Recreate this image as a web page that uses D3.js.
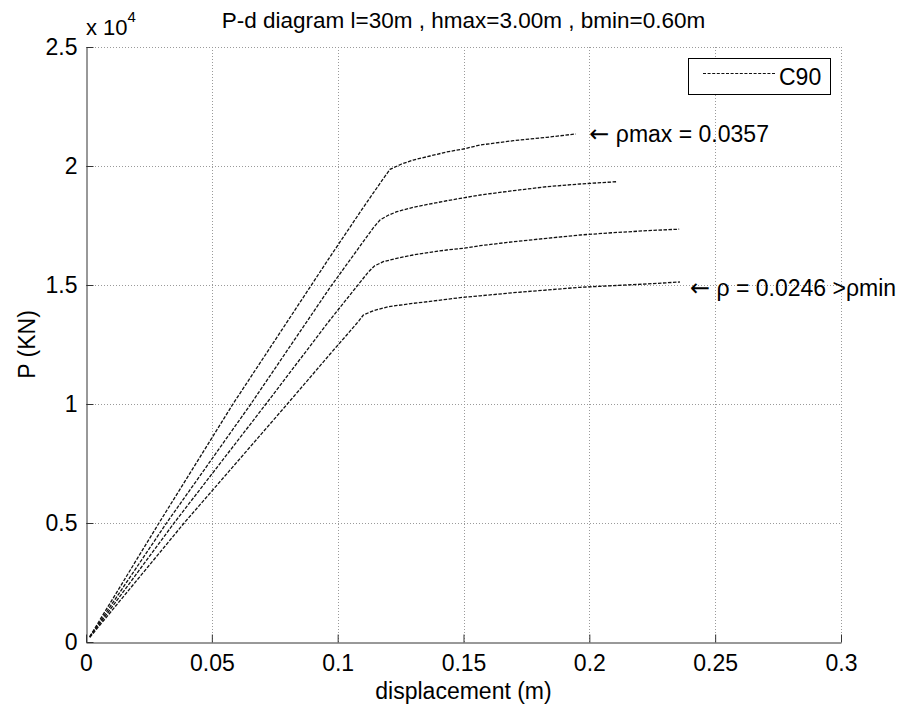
<!DOCTYPE html>
<html>
<head>
<meta charset="utf-8">
<script src="https://cdn.jsdelivr.net/npm/d3@7"></script>
<style>
  html, body { margin: 0; padding: 0; background: #fff; }
  svg { display: block; font-family: "Liberation Sans", Arial, Helvetica, sans-serif; }
</style>
</head>
<body>
<svg id="chart" width="906" height="707"></svg>
<script>
// Load–displacement curves for a beam section, l=30m, hmax=3.00m, bmin=0.60m (concrete C90)
// Displacement in m, load P in KN.

const xTicks = [0, 0.05, 0.1, 0.15, 0.2, 0.25, 0.3];
const xTickLabels = ["0", "0.05", "0.1", "0.15", "0.2", "0.25", "0.3"];
const yTicks = [0, 5000, 10000, 15000, 20000, 25000];
const yTickLabels = ["0", "0.5", "1", "1.5", "2", "2.5"];

// reinforcement ratio ρmax = 0.0357
const dispRhoMax = [0.0015, 0.0290, 0.0584, 0.0970, 0.1100, 0.1180, 0.1208, 0.1254, 0.1300, 0.1367, 0.1433, 0.1499, 0.1566, 0.1698, 0.1831, 0.1946];
const loadRhoMax = [230, 5000, 10000, 16190, 18230, 19450, 19860, 20084, 20252, 20420, 20588, 20714, 20882, 21063, 21206, 21345];

// intermediate ratio
const dispRho2 = [0.0015, 0.0320, 0.0655, 0.0970, 0.1140, 0.1168, 0.1201, 0.1235, 0.1300, 0.1433, 0.1566, 0.1698, 0.1831, 0.1963, 0.2109];
const loadRho2 = [215, 5000, 10000, 14900, 17380, 17731, 17930, 18080, 18265, 18540, 18782, 18963, 19131, 19244, 19341];

// intermediate ratio
const dispRho3 = [0.0015, 0.0350, 0.0715, 0.0970, 0.1120, 0.1146, 0.1181, 0.1235, 0.1300, 0.1367, 0.1433, 0.1499, 0.1566, 0.1698, 0.1831, 0.1963, 0.2095, 0.2228, 0.2357];
const loadRho3 = [205, 5000, 10000, 13540, 15520, 15800, 15979, 16122, 16261, 16374, 16471, 16542, 16651, 16819, 16962, 17101, 17198, 17282, 17345];

// reinforcement ratio ρ = 0.0246 > ρmin
const dispRhoMin = [0.0015, 0.0390, 0.0800, 0.0970, 0.1036, 0.1085, 0.1102, 0.1142, 0.1201, 0.1300, 0.1367, 0.1433, 0.1499, 0.1566, 0.1698, 0.1831, 0.1963, 0.2095, 0.2228, 0.2360];
const loadRhoMin = [195, 5000, 10000, 12100, 12900, 13500, 13740, 13920, 14088, 14230, 14310, 14399, 14483, 14545, 14677, 14790, 14903, 14971, 15042, 15126];

const seriesDisp = [dispRhoMax, dispRho2, dispRho3, dispRhoMin];
const seriesLoad = [loadRhoMax, loadRho2, loadRho3, loadRhoMin];

const titleText = "P-d diagram l=30m , hmax=3.00m , bmin=0.60m";
const xLabel = "displacement (m)";
const yLabel = "P (KN)";
const legendLabel = "C90";
const arrowGlyph = "\u2190";
const noteTop = " \u03C1max = 0.0357";
const noteBottom = " \u03C1 = 0.0246 >\u03C1min";

const svg = d3.select("#chart");
const W = 906, H = 707;
const margin = { left: 86, right: 65, top: 47, bottom: 65 };
const fs = 23;
const fontStack = "'Liberation Sans', Arial, Helvetica, sans-serif";

const x = d3.scaleLinear().domain([0, 0.3]).range([margin.left, W - margin.right]);
const y = d3.scaleLinear().domain([0, 25000]).range([H - margin.bottom, margin.top]);

// dotted grid (also closes the box on the top and right)
const grid = svg.append("g").attr("stroke", "#9a9a9a").attr("stroke-width", 1).attr("stroke-dasharray", "1,2");
xTicks.filter(d => d > 0).forEach(d => {
  const px = Math.round(x(d)) + 0.5;
  grid.append("line").attr("x1", px).attr("x2", px).attr("y1", y(0)).attr("y2", y(25000));
});
yTicks.filter(d => d > 0).forEach(d => {
  const py = Math.round(y(d)) + 0.5;
  grid.append("line").attr("x1", x(0)).attr("x2", x(0.3)).attr("y1", py).attr("y2", py);
});

// axes
const xAxis = d3.axisBottom(x).tickValues(xTicks).tickFormat((d, i) => xTickLabels[i])
  .tickSizeInner(-8).tickSizeOuter(0).tickPadding(12);
const yAxis = d3.axisLeft(y).tickValues(yTicks).tickFormat((d, i) => yTickLabels[i])
  .tickSizeInner(-7).tickSizeOuter(0).tickPadding(9);

const gx = svg.append("g").attr("transform", `translate(0,${Math.round(y(0)) + 0.5})`).call(xAxis);
const gy = svg.append("g").attr("transform", `translate(${Math.round(x(0)) + 0.5},0)`).call(yAxis);
[gx, gy].forEach(g => {
  g.select(".domain").attr("stroke", "#333");
  g.selectAll(".tick line").attr("stroke", "#333");
  g.selectAll(".tick text").attr("fill", "#000").style("font-size", fs + "px")
    .style("font-family", fontStack);
});

// curves
const line = d3.line().x(d => x(d[0])).y(d => y(d[1]));
seriesDisp.forEach((xs, i) => {
  const pts = xs.map((v, k) => [v, seriesLoad[i][k]]);
  svg.append("path").datum(pts).attr("d", line)
    .attr("fill", "none").attr("stroke", "#111").attr("stroke-width", 1.3)
    .attr("stroke-dasharray", "3.5,1.5");
});

// annotations
function note(xv, yv, txt) {
  const t = svg.append("text").attr("x", x(xv)).attr("y", y(yv))
    .attr("dy", "0.35em").style("font-size", fs + "px");
  t.append("tspan").style("font-family", "'DejaVu Sans', sans-serif").style("font-size", "24px").text(arrowGlyph);
  t.append("tspan").text(txt);
}
note(0.2, loadRhoMax[loadRhoMax.length - 1], noteTop);
note(0.24, 14880, noteBottom);

// exponent label
const expo = svg.append("text").attr("x", x(0)).attr("y", 35).style("font-size", "22px");
expo.append("tspan").text("x 10");
expo.append("tspan").attr("dy", -13).style("font-size", "15px").text("4");

// title and axis labels
svg.append("text").attr("x", (x(0) + x(0.3)) / 2).attr("y", 28).attr("text-anchor", "middle")
  .style("font-size", "22.5px").text(titleText);
svg.append("text").attr("x", (x(0) + x(0.3)) / 2).attr("y", 699).attr("text-anchor", "middle")
  .style("font-size", fs + "px").text(xLabel);
svg.append("text").attr("transform", `translate(35,${(y(0) + y(25000)) / 2}) rotate(-90)`)
  .attr("text-anchor", "middle").style("font-size", fs + "px").text(yLabel);

// legend
const lg = svg.append("g");
lg.append("rect").attr("x", 688.5).attr("y", 58.5).attr("width", 142).attr("height", 36)
  .attr("fill", "#fff").attr("stroke", "#000").attr("stroke-width", 1);
lg.append("line").attr("x1", 703).attr("x2", 775).attr("y1", 73.5).attr("y2", 73.5)
  .attr("stroke", "#111").attr("stroke-width", 1.1).attr("stroke-dasharray", "3,1.6");
lg.append("text").attr("x", 779).attr("y", 85).style("font-size", fs + "px").text(legendLabel);
</script>
</body>
</html>
